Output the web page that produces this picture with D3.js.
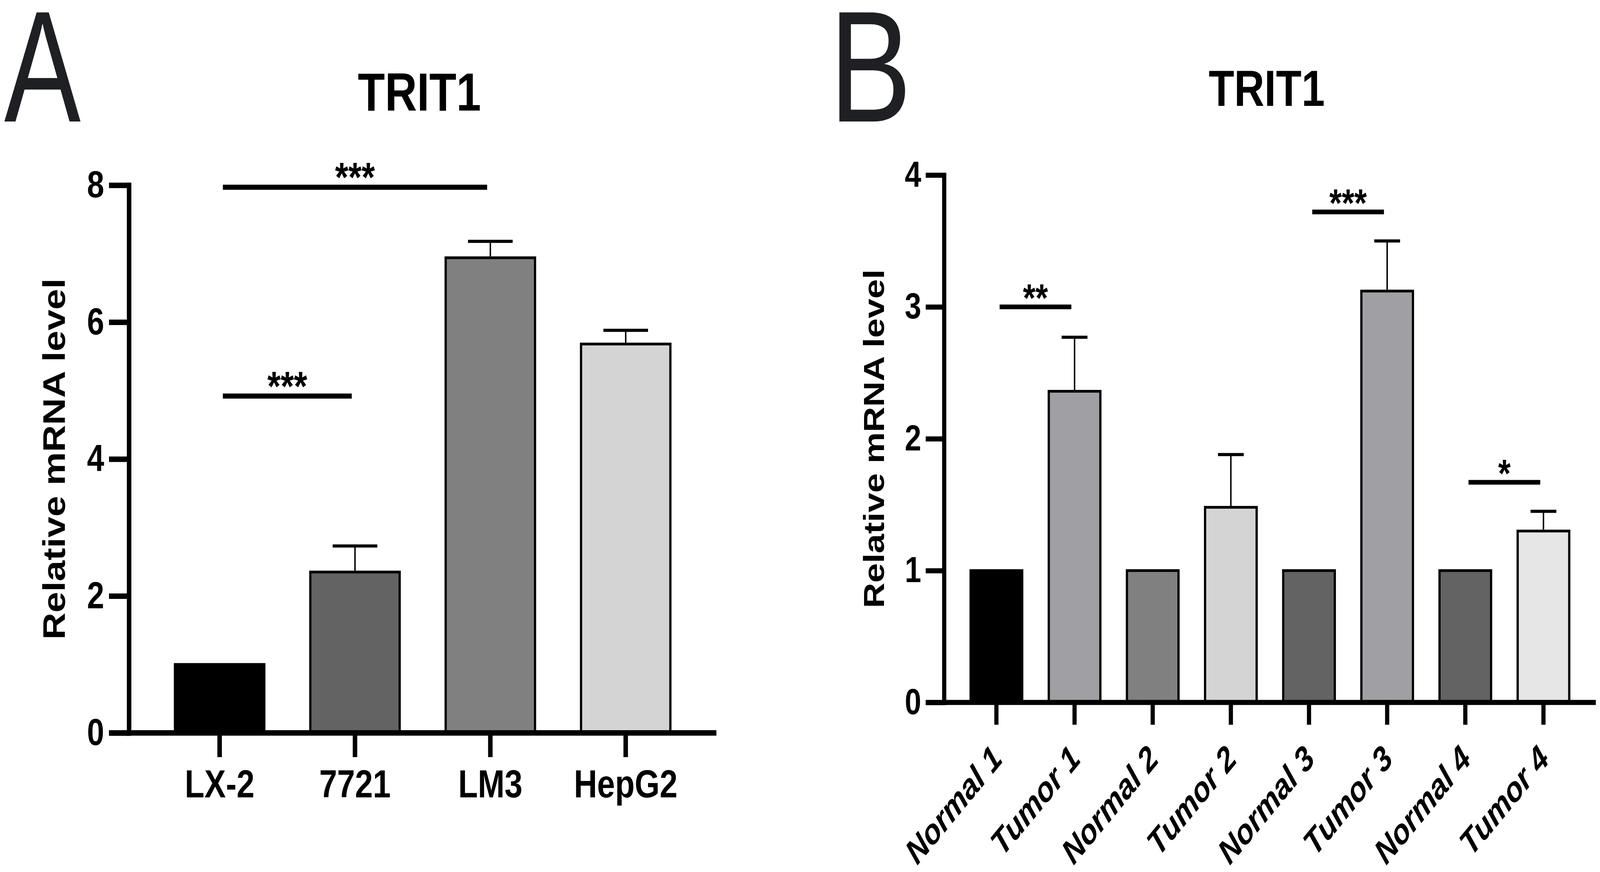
<!DOCTYPE html>
<html>
<head>
<meta charset="utf-8">
<script src="https://cdn.jsdelivr.net/npm/d3@7"></script>
<style>
  html, body { margin: 0; padding: 0; width: 100%; height: 100%; overflow: hidden; background: #fff; }
  #figure { width: 100%; height: 100%; }
  svg { display: block; }
  svg text { font-family: "Liberation Sans", Arial, Helvetica, sans-serif; }
</style>
</head>
<body>
<div id="figure"></div>
<script>
// ---- Panel A: cell lines ----
const cellLines = ["LX-2", "7721", "LM3", "HepG2"];
const cellMeans = [1.0, 2.35, 6.94, 5.68];
const cellErrors = [0, 0.38, 0.24, 0.2];
const cellColors = ["#000000", "#636363", "#808080", "#d4d4d4"];
const cellTicks = [0, 2, 4, 6, 8];
const cellSig = [
    { from: "LX-2", to: "LM3", y: 7.97, label: "***" },
    { from: "LX-2", to: "7721", y: 4.92, label: "***" }
];

// ---- Panel B: paired tissues ----
const tissues = ["Normal 1", "Tumor 1", "Normal 2", "Tumor 2", "Normal 3", "Tumor 3", "Normal 4", "Tumor 4"];
const tissueMeans = [1, 2.36, 1, 1.48, 1, 3.12, 1, 1.30];
const tissueErrors = [0, 0.41, 0, 0.40, 0, 0.38, 0, 0.15];
const tissueColors = ["#000000", "#a0a0a4", "#808080", "#d4d4d4", "#636363", "#a0a0a4", "#636363", "#e6e6e6"];
const tissueTicks = [0, 1, 2, 3, 4];
const tissueSig = [
    { from: "Normal 1", to: "Tumor 1", y: 3.0, label: "**" },
    { from: "Normal 3", to: "Tumor 3", y: 3.72, label: "***" },
    { from: "Normal 4", to: "Tumor 4", y: 1.67, label: "*" }
];

const W = 4976, H = 2232;

// the figure is laid out in 4976x2232 units and stretched to fill the window
const svg = d3.select("#figure")
    .append("svg")
    .attr("width", "100%")
    .attr("height", "100%")
    .attr("viewBox", `0 0 ${W} ${H}`)
    .attr("preserveAspectRatio", "none");

// Draws one bar chart panel
function drawPanel(o) {
    const g = svg.append("g");

    const x = d3.scaleBand()
        .domain(o.cats)
        .range([o.x0, o.x1])
        .padding(0.34);

    const y = d3.scaleLinear()
        .domain([0, o.yMax])
        .range([o.y0, o.y1]);

    const rows = o.cats.map((c, i) => ({ cat: c, mean: o.means[i], err: o.errors[i], color: o.colors[i] }));

    // bars
    g.selectAll("rect.bar")
        .data(rows)
        .enter()
        .append("rect")
        .attr("class", "bar")
        .attr("x", d => x(d.cat))
        .attr("y", d => y(d.mean))
        .attr("width", x.bandwidth())
        .attr("height", d => y(0) - y(d.mean))
        .attr("fill", d => d.color)
        .attr("stroke", "#000")
        .attr("stroke-width", o.barStroke);

    // error bars (upper only)
    const withErr = rows.filter(d => d.err > 0);
    g.selectAll("line.err")
        .data(withErr)
        .enter()
        .append("line")
        .attr("x1", d => x(d.cat) + x.bandwidth() / 2)
        .attr("x2", d => x(d.cat) + x.bandwidth() / 2)
        .attr("y1", d => y(d.mean) - o.barStroke / 2)
        .attr("y2", d => y(d.mean + d.err))
        .attr("stroke", "#000")
        .attr("stroke-width", o.errStroke);

    g.selectAll("line.cap")
        .data(withErr)
        .enter()
        .append("line")
        .attr("x1", d => x(d.cat) + x.bandwidth() / 4)
        .attr("x2", d => x(d.cat) + x.bandwidth() * 3 / 4)
        .attr("y1", d => y(d.mean + d.err))
        .attr("y2", d => y(d.mean + d.err))
        .attr("stroke", "#000")
        .attr("stroke-width", o.capStroke);

    // significance lines
    const mid = c => x(c) + x.bandwidth() / 2;
    g.selectAll("line.sig")
        .data(o.sig)
        .enter()
        .append("line")
        .attr("x1", d => mid(d.from) + o.sigInset)
        .attr("x2", d => mid(d.to) - o.sigInset)
        .attr("y1", d => y(d.y))
        .attr("y2", d => y(d.y))
        .attr("stroke", "#000")
        .attr("stroke-width", o.sigW);

    g.selectAll("text.sig")
        .data(o.sig)
        .enter()
        .append("text")
        .attr("x", d => (mid(d.from) + mid(d.to)) / 2)
        .attr("y", d => y(d.y) + o.starDy)
        .attr("text-anchor", "middle")
        .attr("font-size", o.starFont)
        .attr("font-weight", "bold")
        .text(d => d.label);

    // y axis
    const gy = g.append("g")
        .attr("transform", `translate(${o.x0},0)`)
        .call(d3.axisLeft(y)
            .tickValues(o.ticks)
            .tickSize(o.tickLen)
            .tickSizeOuter(0)
            .tickPadding(o.tickPad)
            .tickFormat(d3.format("d")))
        .attr("font-size", null)
        .attr("font-family", null);
    gy.select(".domain").attr("stroke-width", o.axisW).attr("stroke-linecap", "square");
    gy.selectAll(".tick line").attr("stroke-width", o.axisW);
    gy.selectAll(".tick text")
        .attr("font-size", o.tickFont)
        .attr("font-weight", "bold")
        .attr("fill", "#000");

    // x axis
    const gx = g.append("g")
        .attr("transform", `translate(0,${o.y0})`)
        .call(d3.axisBottom(x)
            .tickSize(o.tickLen)
            .tickSizeOuter(0)
            .tickPadding(o.xPad))
        .attr("font-size", null)
        .attr("font-family", null);
    gx.select(".domain")
        .attr("d", `M${o.x0 - o.tickLen},0H${o.x1}`)
        .attr("stroke-width", o.axisW);
    gx.selectAll(".tick line").attr("stroke-width", o.axisW);
    const xt = gx.selectAll(".tick text")
        .attr("font-size", o.xFont)
        .attr("font-weight", "bold")
        .attr("fill", "#000");
    if (o.rotate) {
        xt.attr("x", 0).attr("y", 0).attr("dy", null)
            .attr("text-anchor", "end")
            .attr("font-style", "italic")
            .attr("transform", `translate(${o.labDx},${o.labDy}) rotate(-45)`);
    }

    // y axis title
    g.append("text")
        .attr("transform", `translate(${o.x0 - o.yLabOff},${(o.y0 + o.y1) / 2}) rotate(-90)`)
        .attr("text-anchor", "middle")
        .attr("font-size", o.yLabFont)
        .attr("font-weight", "bold")
        .text("Relative mRNA level");

    // chart title
    g.append("text")
        .attr("x", (o.x0 + o.x1) / 2 - 10)
        .attr("y", o.titleY)
        .attr("text-anchor", "middle")
        .attr("font-size", o.titleFont)
        .attr("font-weight", "bold")
        .text("TRIT1");

    // panel letter
    g.append("text")
        .attr("x", o.letterX)
        .attr("y", 311)
        .attr("font-size", 406)
        .attr("fill", "#1e2024")
        .attr("textLength", o.letterLen)
        .attr("lengthAdjust", "spacingAndGlyphs")
        .text(o.letter);
}

drawPanel({
    cats: cellLines, means: cellMeans, errors: cellErrors, colors: cellColors,
    ticks: cellTicks, sig: cellSig,
    x0: 401, x1: 2228, y0: 1876, y1: 474, yMax: 8,
    axisW: 14, sigW: 13, tickLen: 62, tickPad: 15, xPad: 32,
    barStroke: 7, errStroke: 4.5, capStroke: 8,
    sigInset: 10, starFont: 106, starDy: 11,
    tickFont: 96, xFont: 100, rotate: false,
    yLabOff: 199, yLabFont: 96,
    titleY: 283, titleFont: 138,
    letter: "A", letterX: 13, letterLen: 238
});

drawPanel({
    cats: tissues, means: tissueMeans, errors: tissueErrors, colors: tissueColors,
    ticks: tissueTicks, sig: tissueSig,
    x0: 2936, x1: 4963, y0: 1798, y1: 448, yMax: 4,
    axisW: 13, sigW: 12, tickLen: 57, tickPad: 14, xPad: 30,
    barStroke: 7, errStroke: 4.5, capStroke: 8,
    sigInset: 10, starFont: 100, starDy: 12,
    tickFont: 92, xFont: 89, rotate: true, labDx: 23, labDy: 149,
    yLabOff: 187, yLabFont: 90,
    titleY: 271, titleFont: 130,
    letter: "B", letterX: 2579, letterLen: 256
});
</script>
</body>
</html>
